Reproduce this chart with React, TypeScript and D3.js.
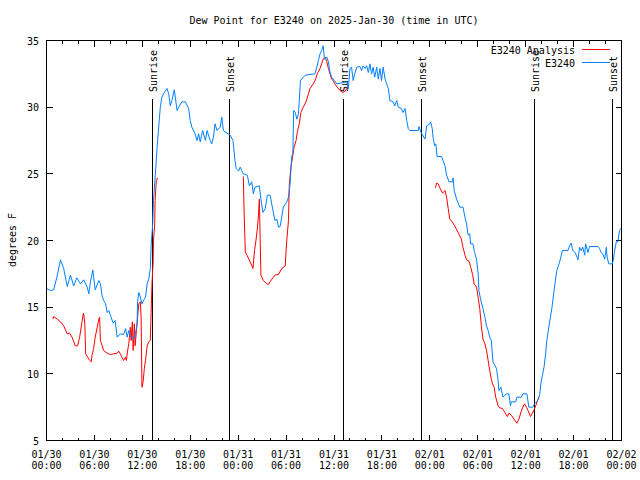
import React from "react";
import * as d3 from "d3";

// Observed dew point (E3240), hours since 2025-01-30 00:00 UTC
const obsHours = [0.0,0.5,0.9,1.3,1.75,2.15,2.6,3.0,3.4,3.8,4.25,4.65,5.1,5.3,5.5,5.8,6.1,6.55,6.75,6.95,7.15,7.4,7.6,7.8,8.0,8.35,8.6,8.85,9.25,9.65,9.9,10.1,10.3,10.5,10.9,11.1,11.35,11.4,11.55,11.75,11.95,12.15,12.4,12.6,12.8,13.0,13.1,13.3,13.4,13.55,13.7,13.85,14.05,14.25,14.45,14.75,15.1,15.3,15.5,15.7,16.0,16.35,16.55,16.95,17.4,17.8,18.0,18.2,18.6,18.85,19.05,19.25,19.55,19.9,20.1,20.5,20.7,20.9,21.1,21.35,21.75,21.95,22.15,22.6,23.0,23.35,23.6,23.75,24.05,24.25,24.65,25.15,25.4,25.7,25.9,26.1,26.65,26.85,27.1,27.4,27.65,28.0,28.2,28.6,28.85,29.05,29.25,29.45,29.65,30.1,30.3,30.5,30.7,30.85,30.95,31.15,31.35,31.55,31.75,31.8,32.4,33.6,33.85,34.05,34.25,34.45,34.65,34.8,35.1,35.3,35.5,35.7,35.9,36.35,37.6,37.8,38.0,38.2,38.4,38.6,38.85,39.25,39.45,39.65,39.9,40.1,40.3,40.5,40.7,40.9,41.1,41.35,41.55,41.75,41.95,42.15,42.4,42.6,42.8,43.0,43.4,43.6,43.85,44.05,44.45,44.65,44.9,45.1,45.3,45.5,46.55,46.65,46.9,47.4,47.6,48.0,48.1,48.3,48.4,48.6,48.75,48.9,49.45,49.65,49.9,50.1,50.4,50.85,50.9,51.05,51.35,51.75,52.15,52.4,52.6,52.8,53.0,53.1,53.4,53.6,53.85,54.05,54.15,54.35,54.65,54.9,55.1,55.3,55.5,55.7,55.9,56.35,56.55,56.65,56.9,57.15,57.4,57.6,57.9,58.1,58.2,58.75,58.9,59.45,59.65,60.15,60.4,60.9,61.1,61.35,61.55,61.75,61.9,62.1,62.3,62.5,62.65,62.9,63.1,63.3,63.5,63.7,63.9,64.1,64.35,64.6,64.9,65.3,65.5,65.7,65.9,66.2,66.55,66.75,66.95,67.15,67.4,67.5,67.8,68.0,69.05,69.25,69.45,69.65,69.9,70.1,70.2,70.4,70.85,71.0,71.1,71.35,71.55,71.75,71.9];
const obsDewpt = [16.4,16.25,16.3,17.25,18.55,17.9,16.55,17.4,16.6,17.2,16.75,17.05,16.5,16.0,16.9,17.8,16.3,17.0,16.75,15.9,15.5,15.25,14.6,14.75,14.4,13.8,14.0,12.75,13.0,12.95,13.4,12.75,13.25,12.8,12.6,12.9,13.75,15.4,16.1,15.75,15.25,15.5,15.75,16.75,17.1,17.9,19.6,21.25,23.0,24.3,25.6,27.0,28.5,30.0,30.75,31.1,31.4,31.0,30.1,30.5,31.3,29.75,30.0,30.4,30.4,29.9,29.0,28.5,28.0,27.5,28.0,27.4,28.25,27.5,28.25,27.5,27.25,27.75,28.75,28.25,28.5,29.25,28.25,28.05,27.9,27.5,26.0,25.4,25.2,25.5,25.0,24.9,24.1,24.4,23.5,24.0,24.1,23.1,22.1,22.4,23.4,23.4,22.75,21.5,21.6,21.0,21.05,21.75,22.5,22.9,23.25,24.25,26.25,26.6,29.75,29.6,29.1,29.5,31.5,32.0,32.4,32.5,33.0,33.5,34.0,34.25,34.6,33.6,33.75,33.4,32.6,32.25,32.1,31.75,31.9,31.4,32.9,33.0,32.0,32.5,33.0,33.05,32.75,33.1,32.9,33.1,32.6,33.25,32.5,33.0,32.25,33.0,32.1,32.9,32.0,33.0,32.1,31.75,31.4,30.5,30.4,30.1,30.5,30.0,29.9,29.6,29.9,29.0,28.4,28.25,28.25,28.55,28.1,27.6,28.6,28.75,28.9,28.4,27.75,27.1,27.25,26.3,26.3,26.0,25.6,24.9,24.4,24.4,24.7,23.75,23.1,22.5,22.5,21.75,21.25,20.4,20.5,19.75,19.75,19.1,18.6,17.5,16.25,15.6,14.9,14.25,13.6,13.25,12.75,12.5,10.9,10.4,9.5,8.75,9.0,8.25,8.4,8.5,8.5,7.6,7.9,7.9,8.25,8.25,8.5,8.5,7.5,7.5,7.75,7.9,8.05,8.4,9.25,9.9,10.5,11.5,12.5,13.5,14.25,15.0,16.0,16.9,17.75,18.1,18.6,19.25,19.25,19.25,19.6,19.8,19.25,19.1,18.55,19.5,19.25,19.5,18.9,19.75,19.1,19.55,19.55,19.4,19.1,19.0,18.6,19.5,18.75,18.25,18.25,18.6,19.1,19.9,19.9,20.75,20.9];

// Analysis dew point (E3240 Analysis); null marks a gap in the series
const anaHours = [0.8,0.9,1.35,1.75,2.15,2.6,2.9,3.2,3.6,3.9,4.15,4.45,4.6,4.65,4.8,4.9,5.3,5.6,5.7,5.9,6.1,6.35,6.55,6.65,6.75,6.9,7.15,7.6,8.0,8.4,8.85,9.05,9.25,9.45,9.65,9.9,10.0,10.15,10.3,10.5,10.6,10.75,10.85,11.0,11.1,11.35,11.55,11.75,11.85,11.95,12.1,12.25,12.4,12.6,12.8,13.0,13.1,13.2,13.35,13.4,13.55,13.6,13.75,13.9,
  20.0,
  24.65,24.75,24.9,25.1,25.5,25.85,26.05,26.25,26.4,26.55,26.6,26.65,26.75,26.85,27.15,27.6,27.8,28.0,28.4,28.6,29.05,29.45,29.9,29.95,30.1,30.3,30.4,30.6,30.85,31.0,31.25,31.4,31.65,31.85,32.15,32.5,32.8,33.0,33.4,33.7,33.9,34.25,34.45,34.65,34.9,35.1,35.3,35.5,35.7,35.9,36.1,36.4,36.75,37.1,37.4,37.6,37.8,
  43.0,
  48.7,48.85,49.05,49.25,49.6,49.9,50.1,50.3,50.5,50.7,51.1,51.55,51.95,52.15,52.4,52.6,52.9,53.1,53.35,53.55,53.85,54.05,54.25,54.45,54.65,54.9,55.1,55.3,55.5,55.7,55.85,56.05,56.25,56.55,56.75,57.1,57.4,57.7,57.9,58.2,58.6,58.9,59.15,59.45,59.65,59.85,60.1,60.3,60.6,60.85,61.05,61.25,61.55,61.65];
const anaDewpt: (number | null)[] = [14.1,14.3,14.1,13.9,13.6,13.0,13.05,12.75,12.1,12.1,12.75,13.9,14.5,14.55,13.75,11.5,11.1,10.9,11.4,11.9,12.75,13.5,14.1,14.25,12.5,12.25,11.75,11.55,11.45,11.5,11.55,11.7,11.5,11.25,11.0,11.25,11.0,11.7,12.25,13.5,12.5,13.9,11.75,13.75,12.1,13.9,15.25,15.4,14.25,9.0,9.4,10.4,11.0,12.1,12.4,12.5,14.6,16.6,18.4,20.0,21.25,23.0,24.5,24.7,
  null,
  24.8,22.0,19.1,18.9,18.4,17.9,19.25,20.1,20.9,21.9,22.6,23.1,20.25,17.4,17.0,16.75,16.7,16.9,17.25,17.4,17.45,17.9,18.1,18.75,20.1,21.5,24.1,25.5,26.4,27.0,27.5,28.1,28.75,29.6,30.0,30.4,31.0,31.4,31.75,32.1,32.5,32.9,33.25,33.6,33.75,33.4,32.9,32.5,32.1,32.0,31.75,31.5,31.25,31.1,31.2,31.4,31.6,
  null,
  23.95,24.3,24.25,23.95,23.55,23.75,23.25,22.4,21.6,21.5,21.1,20.6,20.1,19.5,18.9,18.55,18.45,18.05,17.45,16.75,16.5,15.75,14.9,13.6,12.6,12.25,11.75,11.0,10.25,9.6,9.25,9.0,8.25,7.6,7.45,7.4,7.1,6.8,7.05,6.9,6.55,6.3,6.6,7.2,7.5,7.75,7.5,7.25,6.8,7.05,7.3,7.6,8.1,8.3];

// Sun events (hours since start)
const eventHours = [13.3, 22.9, 37.2, 46.9, 61.15, 70.9];
const eventLabels = ["Sunrise", "Sunset", "Sunrise", "Sunset", "Sunrise", "Sunset"];

const yTicks = [5, 10, 15, 20, 25, 30, 35];
const xTickHours = [0, 6, 12, 18, 24, 30, 36, 42, 48, 54, 60, 66, 72];
const xTickDates = ["01/30", "01/30", "01/30", "01/30", "01/31", "01/31", "01/31", "01/31", "02/01", "02/01", "02/01", "02/01", "02/02"];
const xTickTimes = ["00:00", "06:00", "12:00", "18:00", "00:00", "06:00", "12:00", "18:00", "00:00", "06:00", "12:00", "18:00", "00:00"];

const W = 640, H = 480;
const L = 46.5, R = 621.5, T = 40.5, B = 440.5;
const FONT = "'DejaVu Sans Mono', 'Liberation Mono', monospace";
const RED = "#ff0000";
const BLUE = "#0080ff";

export default function App() {
  const x = d3.scaleLinear().domain([0, 72]).range([L, R]);
  const y = d3.scaleLinear().domain([5, 35]).range([B, T]);

  const line = d3
    .line<[number, number | null]>()
    .defined((d) => d[1] !== null)
    .x((d) => x(d[0]))
    .y((d) => y(d[1] as number));

  const obsPts = obsHours.map((h, i) => [h, obsDewpt[i]] as [number, number | null]);
  const anaPts = anaHours.map((h, i) => [h, anaDewpt[i]] as [number, number | null]);

  const minorX = d3.range(0, 73, 2);

  return (
    <svg
      width={W}
      height={H}
      style={{ position: "absolute", left: 0, top: 0, background: "#fff" }}
      fontFamily={FONT}
      fontSize={10}
    >
      <rect x={0} y={0} width={W} height={H} fill="#fff" />
      <text x={334} y={24} textAnchor="middle" fill="#000">
        Dew Point for E3240 on 2025-Jan-30 (time in UTC)
      </text>

      {/* axes ticks */}
      <g stroke="#000" strokeWidth={1} shapeRendering="crispEdges">
        {minorX.map((h) => {
          const len = h % 6 === 0 ? 6 : 3;
          const px = x(h);
          return (
            <g key={"xt" + h}>
              <line x1={px} x2={px} y1={B} y2={B - len} />
              <line x1={px} x2={px} y1={T} y2={T + len} />
            </g>
          );
        })}
        {yTicks.map((v) => (
          <g key={"yt" + v}>
            <line x1={L} x2={L + 6} y1={y(v)} y2={y(v)} />
            <line x1={R} x2={R - 6} y1={y(v)} y2={y(v)} />
          </g>
        ))}
      </g>

      {/* y tick labels */}
      {yTicks.map((v) => (
        <text key={"yl" + v} x={39} y={y(v) + 4} textAnchor="end" fill="#000">
          {v}
        </text>
      ))}
      {/* x tick labels */}
      {xTickHours.map((h, i) => (
        <g key={"xl" + h}>
          <text x={x(h)} y={458} textAnchor="middle" fill="#000">
            {xTickDates[i]}
          </text>
          <text x={x(h)} y={469} textAnchor="middle" fill="#000">
            {xTickTimes[i]}
          </text>
        </g>
      ))}

      <text
        transform={`translate(12,240) rotate(-90)`}
        textAnchor="middle"
        dominantBaseline="central"
        fill="#000"
      >
        degrees F
      </text>

      {/* sun events */}
      {eventHours.map((h, i) => {
        const px = Math.floor(x(h)) + 0.5;
        return (
          <g key={"ev" + i}>
            <line x1={px} x2={px} y1={99} y2={B} stroke="#000" strokeWidth={1} shapeRendering="crispEdges" />
            <text
              transform={`translate(${px + 1},92) rotate(-90)`}
              textAnchor="start"
              dominantBaseline="central"
              fill="#000"
            >
              {eventLabels[i]}
            </text>
          </g>
        );
      })}

      {/* data */}
      <path d={line(anaPts) || ""} fill="none" stroke={RED} strokeWidth={1} />
      <path d={line(obsPts) || ""} fill="none" stroke={BLUE} strokeWidth={1} />

      {/* legend */}
      <text x={575} y={53.5} textAnchor="end" fill="#000">E3240 Analysis</text>
      <line x1={582} x2={610} y1={49.5} y2={49.5} stroke={RED} strokeWidth={1} />
      <text x={575} y={66.5} textAnchor="end" fill="#000">E3240</text>
      <line x1={582} x2={610} y1={62.5} y2={62.5} stroke={BLUE} strokeWidth={1} />

      {/* frame */}
      <rect x={L} y={T} width={R - L} height={B - T} fill="none" stroke="#000" strokeWidth={1} shapeRendering="crispEdges" />
    </svg>
  );
}
